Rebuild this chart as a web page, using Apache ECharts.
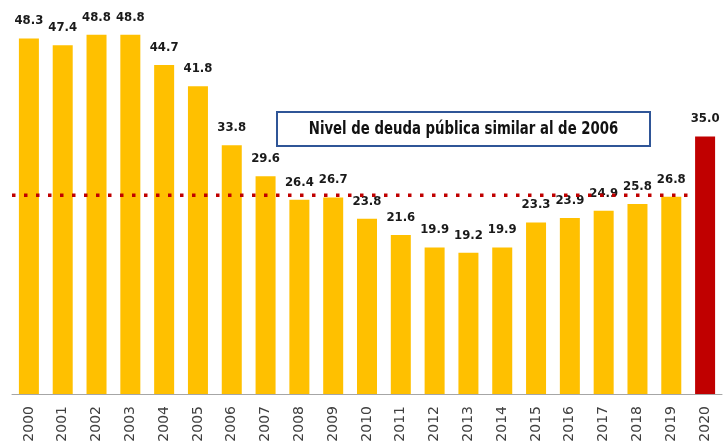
<!DOCTYPE html>
<html>
<head>
<meta charset="utf-8">
<script src="https://cdn.jsdelivr.net/npm/echarts@6/dist/echarts.min.js"></script>
<style>
  html, body { margin: 0; padding: 0; background: #fff; }
  #chart { width: 724px; height: 446px; }
</style>
</head>
<body>
<div id="chart"></div>
<script>
const years = ['2000', '2001', '2002', '2003', '2004', '2005', '2006', '2007', '2008', '2009', '2010',
  '2011', '2012', '2013', '2014', '2015', '2016', '2017', '2018', '2019', '2020']
const debt = [48.3, 47.4, 48.8, 48.8, 44.7, 41.8, 33.8, 29.6, 26.4, 26.7, 23.8,
  21.6, 19.9, 19.2, 19.9, 23.3, 23.9, 24.9, 25.8, 26.8, 35.0]
// reference level (2006-like), drawn across 2000..2019
const refLine = [[0, 27.0], [20, 27.0]]
const highlightYear = '2020'
const boxText = 'Nivel de deuda pública similar al de 2006'

const narrowFont = '"DejaVu Sans Condensed", Roboto, sans-serif'

const chart = echarts.init(document.getElementById('chart'))

chart.setOption({
  backgroundColor: '#fff',
  animation: false,
  grid: { left: 12, right: 2, top: 26, bottom: 52 },
  xAxis: [{
    type: 'category',
    data: years,
    axisLine: { lineStyle: { color: '#a6a6a6', width: 1 } },
    axisTick: { length: 5, lineStyle: { color: '#a6a6a6' } },
    axisLabel: {
      rotate: 90,
      margin: 12,
      color: '#404040',
      fontSize: 14,
      fontFamily: 'DejaVu Sans'
    }
  }, {
    type: 'value',
    min: 0,
    max: 21,
    show: false
  }],
  yAxis: {
    type: 'value',
    min: 0,
    max: 50,
    show: false,
    splitLine: { show: false }
  },
  series: [{
    type: 'bar',
    data: debt.map((v, i) => ({
      value: v,
      itemStyle: { color: years[i] === highlightYear ? '#c00000' : '#ffc000' }
    })),
    barWidth: 20,
    label: {
      show: true,
      position: 'top',
      distance: 11,
      formatter: p => p.value.toFixed(1),
      color: '#1a1a1a',
      fontSize: 13,
      fontWeight: 'bold',
      fontFamily: narrowFont
    }
  }, {
    type: 'line',
    xAxisIndex: 1,
    data: refLine,
    symbol: 'none',
    lineStyle: { color: '#c00000', width: 3.5, type: [3.5, 8.5], cap: 'butt' },
    z: 5
  }],
  graphic: [{
    type: 'group',
    left: 276,
    top: 111,
    children: [{
      type: 'rect',
      shape: { x: 0, y: 0, width: 373, height: 34 },
      style: { fill: '#fff', stroke: '#2f5597', lineWidth: 2 }
    }, {
      type: 'text',
      x: 186.5,
      y: 17,
      scaleX: 0.82,
      style: {
        text: boxText,
        align: 'center',
        verticalAlign: 'middle',
        fill: '#111',
        font: 'bold 18px ' + narrowFont
      }
    }]
  }]
})
</script>
</body>
</html>
